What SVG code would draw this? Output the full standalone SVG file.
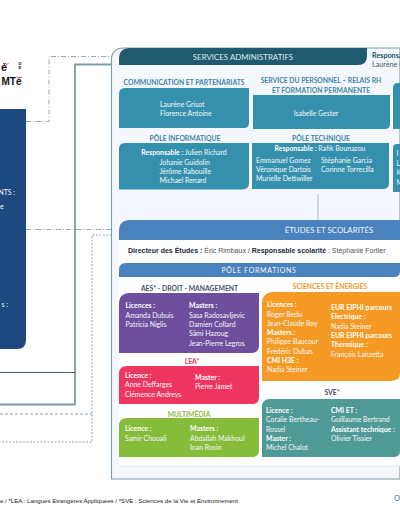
<svg xmlns="http://www.w3.org/2000/svg" width="400" height="516" viewBox="0 0 400 516">
<style>
text{font-family:Lato,"Open Sans",sans-serif;font-size:6.900px;fill:#f2f7f9}
.c{text-anchor:middle}
.b{font-weight:700;fill:#fff}
.h{font-size:6.800px;font-weight:700;text-anchor:middle;fill:#3f83a8}
.teal{fill:#3590ad}
.f{fill:none;stroke-width:1}
</style>
<rect width="400" height="516" fill="#fff"/>
<g id="frame-back"><path d="M75 405V64.500H120M0 404.500H75" fill="none" stroke="#7f9aa8" stroke-width="1.800"/><path d="M0 372.500H75" stroke="#3f6470" stroke-width="1"/></g>
<g id="connectors">
<path class="f" d="M26 121.500H49V56.500H120" stroke="#9aa9ae" stroke-dasharray="5 2 1 2"/>
<path class="f" d="M26 229.500H119" stroke="#9aa9ae" stroke-dasharray="5 2 1 2"/>
<path class="f" d="M119 235H92V442H0" stroke="#8fa2b4" stroke-dasharray="2 1.500"/>
<path class="f" d="M0 414H92" stroke="#8fa2b4" stroke-dasharray="3 2"/>
</g>
<g id="panel"><path d="M400 48H124Q111.500 48 111.500 60V479H400Z" fill="#f4f8fc" stroke="#7f9aa8" stroke-width="1.100"/></g>
<g id="logo">
<text x="1" y="71" style="font:700 11px 'Liberation Sans',sans-serif;fill:#111">é</text>
<path d="M3 63L5 65M8.500 63L6.500 65" stroke="#c8343c" stroke-width="1" fill="none"/>
<text x="18.500" y="64.500" style="font:700 4.200px 'Liberation Sans',sans-serif;fill:#111"><tspan>D</tspan><tspan x="18.500" dy="4">E</tspan></text>
<text x="1.500" y="85" style="font:700 10px 'Liberation Sans',sans-serif;fill:#111">MTé</text>
<path d="M16.500 76.500L18.500 78M22 76.500L20 78" stroke="#c8343c" stroke-width=".8" fill="none"/>
</g>
<g id="direction"><path d="M0 109H26V340Q26 349 17 349H0Z" fill="#1c4a80"/>
<text x="15" y="195" text-anchor="end">NTS :</text><text x="0" y="209">e</text><text x="8" y="307" text-anchor="end">s :</text></g>
<g id="services-admin"><path d="M130 48H367V56Q367 65 358 65H119V59Q119 48 130 48Z" fill="#1f5a6e"/>
<text x="243" y="60" class="c" style="font-size:7.900px;fill:#dfeaee">SERVICES ADMINISTRATIFS</text>
<text x="372" y="57.500" class="b" style="fill:#1f4f62;font-size:7.200px">Responsable :</text><text x="372" y="66.500" style="fill:#3c5a66;font-size:7.200px">Laurène Grisot</text></g>
<g id="communication"><text x="184" y="85" class="h">COMMUNICATION ET PARTENARIATS</text>
<path d="M125 88H249V123Q249 128 244 128H119V94Q119 88 125 88Z" class="teal"/>
<text x="160" y="106.500">Laurène Grisot</text><text x="160" y="116">Florence Antoine</text></g>
<g id="personnel"><text x="321" y="83" class="h">SERVICE DU PERSONNEL – RELAIS RH</text><text x="321" y="92.500" class="h">ET FORMATION PERMANENTE</text>
<path d="M253 95H390V124Q390 129 385 129H253Z" class="teal"/>
<text x="316" y="115.500" class="c">Isabelle Gester</text></g>
<g id="service-3"><path d="M400 83H398Q393 83 393 88V129H400Z" class="teal"/></g>
<g id="informatique"><text x="185" y="141" class="h">PÔLE INFORMATIQUE</text>
<path d="M125 143H249V183Q249 189.500 242 189.500H119V149Q119 143 125 143Z" class="teal"/>
<text x="184" y="155" class="c"><tspan class="b">Responsable :</tspan> Julien Richard</text>
<text x="159.500" y="164.500">Johanie Guidolin</text><text x="159.500" y="173.500">Jérôme Rabouille</text><text x="159.500" y="182.500">Michael Renard</text></g>
<g id="technique"><text x="321" y="141" class="h">PÔLE TECHNIQUE</text>
<path d="M252 143H389V183Q389 189 383 189H252Z" class="teal"/>
<text x="320" y="151" class="c"><tspan class="b">Responsable :</tspan> Rafik Bounazou</text>
<text x="256" y="163">Emmanuel Gomez</text><text x="321" y="163">Stéphanie Garcia</text>
<text x="256" y="172">Véronique Dartois</text><text x="321" y="172">Corinne Torrecilla</text>
<text x="256" y="181">Murielle Dettwiller</text></g>
<g id="pole-3"><path d="M400 144H397Q393 144 393 148V192H400Z" class="teal"/><text x="396.500" y="155.500">I</text><text x="396.500" y="165.500">L</text><text x="396.500" y="175">K</text><text x="396.500" y="184.500">M</text></g>
<path d="M318 194V220" stroke="#a9b8c8" stroke-width="1"/>
<g id="etudes"><rect x="119" y="220" width="281" height="246" fill="#fff"/><path d="M119 466H400" stroke="#dbe4ea" stroke-width=".8"/>
<path d="M130 220H400V240H119V231Q119 220 130 220Z" fill="#4a82bd"/>
<text x="329" y="232.500" class="c" style="font-size:7.900px">ÉTUDES ET SCOLARITÉS</text>
<text x="128" y="252.500" style="font-family:'Liberation Sans',sans-serif;font-size:7px;fill:#555"><tspan class="b" style="fill:#1c2a3a">Directeur des Études :</tspan> Éric Rimbaux / <tspan class="b" style="fill:#1c2a3a">Responsable scolarité</tspan> : Stéphanie Fortier</text></g>
<g id="pole-formations"><path d="M126 263H400V271Q400 277 394 277H119V270Q119 263 126 263Z" fill="#4a82bd"/><text x="259" y="273" class="c" style="font-size:7px;letter-spacing:.7px">PÔLE FORMATIONS</text></g>
<g id="aes"><text x="189.500" y="290.500" class="h" style="fill:#44506a">AES* - DROIT - MANAGEMENT</text>
<path d="M130 293H259V345Q259 353 251 353H119V304Q119 293 130 293Z" fill="#6e4f9e"/>
<text x="125.500" y="308" class="b">Licences :</text><text x="125.500" y="317.500">Amanda Dubuis</text><text x="125.500" y="327">Patricia Niglis</text>
<text x="189" y="308" class="b">Masters :</text><text x="189" y="317.500">Sasa Radosavljevic</text><text x="189" y="327">Damien Collard</text><text x="189" y="336">Sâmi Hazoug</text><text x="189" y="345.500">Jean-Pierre Legros</text></g>
<g id="lea"><text x="192" y="364" class="h" style="fill:#e8375f">LEA*</text>
<path d="M127 366H259V397Q259 404 252 404H119V374Q119 366 127 366Z" fill="#ee3560"/>
<text x="125" y="378" class="b">Licence :</text><text x="125" y="387">Anne Deffarges</text><text x="125" y="396.500">Clémence Andreys</text>
<text x="195" y="380" class="b">Master :</text><text x="195" y="389">Pierre Jamet</text></g>
<g id="multimedia"><text x="189" y="417" class="h" style="fill:#8bbb3e">MULTIMÉDIA</text>
<path d="M127 418H259V450Q259 457 252 457H119V426Q119 418 127 418Z" fill="#85bd3a"/>
<text x="125" y="431" class="b">Licence :</text><text x="125" y="440.500">Samir Chouali</text>
<text x="190" y="431" class="b">Masters :</text><text x="190" y="440.500">Abdallah Makhoul</text><text x="190" y="449.500">Ioan Roxin</text></g>
<g id="sciences"><text x="330" y="288.500" class="h" style="fill:#ef9a2e">SCIENCES ET ÉNERGIES</text>
<path d="M274 292H400V373Q400 381 390 381H262V304Q262 292 274 292Z" fill="#f59b25"/>
<text x="267" y="307" class="b">Licences :</text><text x="267" y="316.500">Roger Bedu</text><text x="267" y="325.500">Jean-Claude Roy</text><text x="267" y="335" class="b">Masters :</text><text x="267" y="344">Philippe Baucour</text><text x="267" y="353.500">Frédéric Dubas</text><text x="267" y="363" class="b">CMI H3E :</text><text x="267" y="372">Nadia Steiner</text>
<text x="331" y="310" class="b">EUR EIPHI parcours</text><text x="331" y="319" class="b">Electrique :</text><text x="331" y="328.500">Nadia Steiner</text><text x="331" y="337.500" class="b">EUR EIPHI parcours</text><text x="331" y="347" class="b">Thermique :</text><text x="331" y="356.500">François Lanzetta</text></g>
<g id="sve"><text x="332" y="394.500" class="h" style="fill:#44506a">SVE*</text>
<path d="M270 399H400V451Q400 457 393 457H262V407Q262 399 270 399Z" fill="#4f9a96"/>
<text x="266" y="413" class="b">Licence :</text><text x="266" y="422">Coralie Bertheau-</text><text x="266" y="431.500">Rossel</text><text x="266" y="441" class="b">Master :</text><text x="266" y="450">Michel Chalot</text>
<text x="331" y="413" class="b">CMI ET :</text><text x="331" y="422">Guillaume Bertrand</text><text x="331" y="431.500" class="b">Assistant technique :</text><text x="331" y="441">Olivier Tissier</text></g>
<g id="footer"><text x="0" y="503" textLength="238" style="font-family:'Liberation Sans',sans-serif;font-size:6.150px;fill:#222">e / *LEA : Langues Etrangères Appliquées / *SVE : Sciences de la Vie et Environnement</text>
<text x="394" y="501" style="font-size:7.500px;fill:#4a6a80">O</text></g>
</svg>
